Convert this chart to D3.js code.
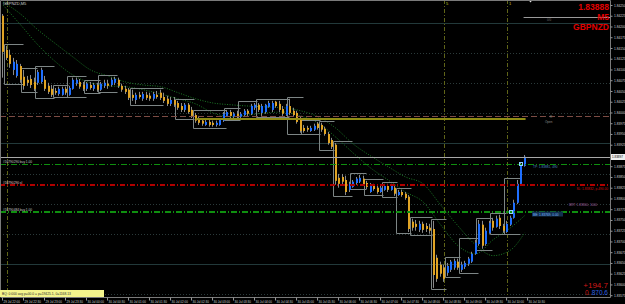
<!DOCTYPE html>
<html>
<head>
<meta charset="utf-8">
<script src="https://cdn.jsdelivr.net/npm/d3@7"></script>
<style>
  body { margin: 0; background: #000; }
  svg { display: block; font-family: "Liberation Sans", Arial, sans-serif; }
</style>
</head>
<body>
<svg width="625" height="304"></svg>
<script>
// GBPNZD M5 bars (index 0 = 29 Jul 22:00)
var opens = [
 1.84225,1.84146,1.84134,1.84099,1.84085,1.84108,1.84083,1.84076,1.84078,1.84071,
 1.84069,1.84071,1.84076,1.84062,1.84055,1.84050,1.84043,1.84041,1.84055,1.84041,
 1.84055,1.84067,1.84071,1.84064,1.84055,1.84064,1.84055,1.84064,1.84053,1.84062,
 1.84067,1.84064,1.84069,1.84076,1.84062,1.84055,1.84053,1.84041,1.84029,1.84041,
 1.84032,1.84041,1.84039,1.84032,1.84041,1.84046,1.84036,1.84032,1.84020,1.84029,
 1.84022,1.84015,1.84006,1.84018,1.84006,1.83994,1.83985,1.83981,1.83971,1.83978,
 1.83976,1.83971,1.83971,1.83981,1.83992,1.84001,1.83990,1.83997,1.83990,1.83994,
 1.84004,1.83997,1.84011,1.84018,1.83999,1.84001,1.84013,1.84006,1.84025,1.84020,
 1.84008,1.83994,1.84015,1.84004,1.83999,1.83987,1.83964,1.83964,1.83957,1.83960,
 1.83974,1.83971,1.83962,1.83950,1.83936,1.83925,1.83848,1.83850,1.83843,1.83820,
 1.83827,1.83836,1.83839,1.83846,1.83836,1.83815,1.83829,1.83825,1.83815,1.83820,
 1.83829,1.83820,1.83825,1.83808,1.83815,1.83811,1.83804,1.83746,1.83741,1.83727,
 1.83741,1.83736,1.83732,1.83729,1.83662,1.83646,1.83639,1.83627,1.83634,1.83639,
 1.83653,1.83634,1.83641,1.83648,1.83653,1.83671,1.83694,1.83739,1.83694,1.83720,
 1.83748,1.83734,1.83755,1.83736,1.83722,1.83739,1.83755,1.83790,1.83834,1.83876];
var highs = [
 1.84229,1.84155,1.84146,1.84127,1.84122,1.84113,1.84099,1.84085,1.84087,1.84081,
 1.84099,1.84104,1.84085,1.84069,1.84064,1.84057,1.84060,1.84060,1.84060,1.84062,
 1.84081,1.84081,1.84078,1.84071,1.84071,1.84071,1.84069,1.84069,1.84071,1.84076,
 1.84076,1.84081,1.84083,1.84081,1.84067,1.84062,1.84057,1.84053,1.84046,1.84048,
 1.84048,1.84048,1.84046,1.84048,1.84050,1.84053,1.84046,1.84039,1.84036,1.84036,
 1.84027,1.84022,1.84022,1.84022,1.84013,1.83999,1.83992,1.83985,1.83983,1.83983,
 1.83981,1.83981,1.83985,1.84001,1.84006,1.84006,1.84001,1.84004,1.84001,1.84008,
 1.84008,1.84020,1.84022,1.84022,1.84020,1.84020,1.84027,1.84027,1.84027,1.84027,
 1.84015,1.84020,1.84032,1.84011,1.84004,1.83992,1.83971,1.83969,1.83969,1.83974,
 1.83978,1.83976,1.83967,1.83955,1.83941,1.83929,1.83857,1.83857,1.83853,1.83839,
 1.83843,1.83850,1.83855,1.83853,1.83841,1.83836,1.83834,1.83829,1.83829,1.83834,
 1.83834,1.83834,1.83829,1.83820,1.83820,1.83815,1.83808,1.83753,1.83750,1.83748,
 1.83746,1.83743,1.83741,1.83748,1.83669,1.83653,1.83646,1.83650,1.83657,1.83660,
 1.83660,1.83653,1.83655,1.83664,1.83676,1.83704,1.83750,1.83748,1.83732,1.83748,
 1.83755,1.83760,1.83762,1.83741,1.83748,1.83760,1.83797,1.83843,1.83883,1.83901];
var lows = [
 1.84081,1.84122,1.84104,1.84087,1.84081,1.84069,1.84053,1.84062,1.84057,1.84050,
 1.84064,1.84067,1.84050,1.84043,1.84036,1.84041,1.84039,1.84039,1.84041,1.84039,
 1.84053,1.84062,1.84055,1.84050,1.84050,1.84053,1.84050,1.84048,1.84050,1.84057,
 1.84055,1.84060,1.84064,1.84057,1.84048,1.84043,1.84029,1.84027,1.84020,1.84032,
 1.84027,1.84029,1.84027,1.84027,1.84032,1.84029,1.84022,1.84015,1.84015,1.84013,
 1.84006,1.84001,1.84001,1.83997,1.83987,1.83976,1.83971,1.83969,1.83969,1.83967,
 1.83967,1.83967,1.83969,1.83978,1.83990,1.83987,1.83987,1.83985,1.83987,1.83992,
 1.83992,1.83994,1.84006,1.84001,1.83992,1.83997,1.84011,1.84001,1.84011,1.84001,
 1.83992,1.83992,1.83994,1.83990,1.83974,1.83953,1.83953,1.83955,1.83955,1.83957,
 1.83960,1.83955,1.83946,1.83925,1.83915,1.83832,1.83825,1.83832,1.83808,1.83815,
 1.83825,1.83832,1.83836,1.83829,1.83822,1.83813,1.83818,1.83811,1.83813,1.83818,
 1.83815,1.83818,1.83806,1.83806,1.83804,1.83797,1.83722,1.83725,1.83725,1.83722,
 1.83720,1.83722,1.83718,1.83592,1.83606,1.83618,1.83606,1.83620,1.83629,1.83634,
 1.83634,1.83629,1.83636,1.83643,1.83650,1.83669,1.83690,1.83683,1.83690,1.83718,
 1.83725,1.83732,1.83729,1.83720,1.83720,1.83736,1.83753,1.83787,1.83832,1.83874];
var closes = [
 1.84141,1.84127,1.84113,1.84118,1.84113,1.84076,1.84062,1.84069,1.84064,1.84055,
 1.84094,1.84099,1.84055,1.84048,1.84041,1.84046,1.84055,1.84055,1.84046,1.84057,
 1.84076,1.84076,1.84060,1.84055,1.84067,1.84057,1.84064,1.84053,1.84067,1.84069,
 1.84062,1.84076,1.84078,1.84062,1.84053,1.84048,1.84034,1.84034,1.84041,1.84036,
 1.84043,1.84034,1.84032,1.84043,1.84036,1.84034,1.84027,1.84020,1.84029,1.84018,
 1.84011,1.84006,1.84018,1.84001,1.83992,1.83981,1.83976,1.83974,1.83978,1.83971,
 1.83971,1.83976,1.83983,1.83997,1.84001,1.83992,1.83997,1.83990,1.83997,1.84004,
 1.83997,1.84015,1.84018,1.84006,1.84015,1.84018,1.84022,1.84022,1.84015,1.84006,
 1.83997,1.84015,1.83999,1.83994,1.83978,1.83957,1.83957,1.83960,1.83964,1.83969,
 1.83964,1.83960,1.83950,1.83929,1.83920,1.83841,1.83834,1.83839,1.83815,1.83834,
 1.83839,1.83846,1.83848,1.83834,1.83827,1.83832,1.83822,1.83815,1.83825,1.83829,
 1.83820,1.83829,1.83811,1.83815,1.83808,1.83801,1.83729,1.83732,1.83734,1.83741,
 1.83727,1.83729,1.83725,1.83622,1.83613,1.83625,1.83613,1.83643,1.83653,1.83655,
 1.83639,1.83646,1.83650,1.83660,1.83671,1.83697,1.83741,1.83690,1.83725,1.83743,
 1.83732,1.83753,1.83736,1.83725,1.83741,1.83755,1.83790,1.83834,1.83876,1.83897];

// range brackets: first and last bar of each group
var boxGroups = [[1,5],[6,9],[10,14],[15,18],[19,23],[24,27],[28,32],[37,45],[50,54],
  [55,63],[64,67],[68,72],[73,81],[82,85],[86,90],[91,94],[95,99],[100,103],[104,108],
  [109,112],[113,116],[117,122],[123,126],[127,130],[131,135],[136,139],[140,143],[144,147]];

// two moving averages, read at every 5th bar
var maIdx  = [0,5,10,15,20,25,30,35,40,45,50,55,60,65,70,75,80,85,90,95,100,105,110,115,120,125,130,135,140,145,149];
var fastMA = [1.84250,1.84204,1.84157,1.84118,1.84087,1.84069,1.84062,1.84060,1.84053,1.84043,
  1.84032,1.84020,1.83999,1.83990,1.83994,1.83999,1.84001,1.83992,1.83976,1.83943,
  1.83906,1.83871,1.83843,1.83815,1.83792,1.83739,1.83690,1.83671,1.83704,1.83732,1.83760];
var slowMA = [1.84257,1.84229,1.84192,1.84160,1.84129,1.84099,1.84085,1.84071,1.84064,1.84060,
  1.84046,1.84032,1.84022,1.84018,1.84015,1.84013,1.84011,1.84004,1.83990,1.83964,
  1.83927,1.83899,1.83874,1.83850,1.83834,1.83785,1.83736,1.83692,1.83667,1.83680,1.83720];

var gridSolid  = [1.84208, 1.83928, 1.83648];
var gridDotted = [1.84138, 1.84068, 1.83998, 1.83858, 1.83788, 1.83718, 1.83578];
var openLevel = 1.83992, pivotLevel = 1.83985, topLevel = 1.84222;
var buyLevel1 = 1.83881, slLevel = 1.83832, buyLevel2 = 1.83769;
var markerIdx = [145, 148], markerPrice = [1.83769, 1.83881];
var vlineIdx = [1, 126, 144], vlineText = ["", "5", "1"];

var priceTicks = [1.84250,1.84225,1.84200,1.84175,1.84150,1.84125,1.84100,1.84075,1.84050,1.84025,
  1.84000,1.83975,1.83950,1.83925,1.83900,1.83875,1.83850,1.83825,1.83800,1.83775,
  1.83750,1.83725,1.83700,1.83675,1.83650,1.83625,1.83600,1.83575];
var timeIdx = [0,6,12,18,24,30,36,42,48,54,60,66,72,78,84,90,96,102,108,114,120,126,132,138,144,150];
var timeLabels = ["29 Jul 22:00","29 Jul 22:30","29 Jul 23:00","29 Jul 23:30","30 Jul 00:00",
  "30 Jul 00:30","30 Jul 01:00","30 Jul 01:30","30 Jul 02:00","30 Jul 02:30","30 Jul 03:00",
  "30 Jul 03:30","30 Jul 04:00","30 Jul 04:30","30 Jul 05:00","30 Jul 05:30","30 Jul 06:00",
  "30 Jul 06:30","30 Jul 07:00","30 Jul 07:30","30 Jul 08:00","30 Jul 08:30","30 Jul 09:00",
  "30 Jul 09:30","30 Jul 10:00","30 Jul 10:30"];

var svg = d3.select("svg"),
    plotR = 610, plotB = 297,
    last = closes.length - 1;

var x = d3.scaleLinear().domain([0, 173.4]).range([3, plotR]),
    y = d3.scaleLinear().domain([1.835708, 1.842616]).range([plotB, 0]);

svg.append("rect").attr("width", 625).attr("height", 304).attr("fill", "#000");

svg.append("clipPath").attr("id", "plot")
    .append("rect").attr("width", plotR).attr("height", plotB);

var g = svg.append("g").attr("clip-path", "url(#plot)");

function hline(p, color, width, dash, x0, x1) {
    var yy = Math.round(y(p)) + (width % 2 ? 0.5 : 0);
    g.append("line")
        .attr("x1", x0 === undefined ? 0 : x0).attr("x2", x1 === undefined ? plotR : x1)
        .attr("y1", yy).attr("y2", yy)
        .attr("stroke", color).attr("stroke-width", width)
        .attr("stroke-dasharray", dash || null);
}

gridSolid.forEach(function (p) { hline(p, "#22393a", 1); });
gridDotted.forEach(function (p) { hline(p, "#2b3a3a", 1, "1,2"); });

// session lines
vlineIdx.forEach(function (d, i) {
    var xx = Math.round(x(d)) + 0.5;
    g.append("line").attr("x1", xx).attr("x2", xx).attr("y1", 0).attr("y2", plotB)
        .attr("stroke", "#5f6418").attr("stroke-dasharray", "4,2,1,2");
    g.append("text").attr("x", xx + 1.5).attr("y", 5).attr("font-size", "4px")
        .attr("fill", "#c8c820").text(vlineText[i]);
});

// moving averages
[slowMA, fastMA].forEach(function (arr) {
    g.append("path")
        .datum(maIdx.map(function (d, i) { return [d, arr[i]]; }))
        .attr("fill", "none").attr("stroke", "#1c7a26").attr("stroke-width", 1)
        .attr("stroke-dasharray", "1,1.5")
        .attr("d", d3.line().curve(d3.curveMonotoneX)
            .x(function (d) { return x(d[0]); })
            .y(function (d) { return y(d[1]); }));
});

// range brackets
g.selectAll(".box").data(boxGroups).enter().append("path")
    .attr("class", "box").attr("fill", "none")
    .attr("stroke", "#7d8585").attr("stroke-width", 1)
    .attr("d", function (d) {
        var hi = Math.round(y(d3.max(highs.slice(d[0], d[1] + 1)))) - 1.5,
            lo = Math.round(y(d3.min(lows.slice(d[0], d[1] + 1)))) + 1.5,
            x0 = Math.round(x(d[0])) - 2.5,
            x1 = Math.round(x(d[1])) + 2.5;
        return "M" + x1 + "," + hi + "H" + x0 + "V" + lo + "H" + x1;
    });

// candles
var bars = d3.range(closes.length);
g.selectAll(".wick").data(bars).enter().append("line")
    .attr("class", "wick")
    .attr("x1", function (i) { return Math.round(x(i)) - 0.5; })
    .attr("x2", function (i) { return Math.round(x(i)) - 0.5; })
    .attr("y1", function (i) { return y(highs[i]); })
    .attr("y2", function (i) { return y(lows[i]); })
    .attr("stroke", "#8a8a8a").attr("stroke-width", 1);

g.selectAll(".bar").data(bars).enter().append("rect")
    .attr("class", "bar")
    .attr("x", function (i) { return Math.round(x(i)) - 1; })
    .attr("width", 2)
    .attr("y", function (i) { return y(Math.max(opens[i], closes[i])); })
    .attr("height", function (i) { return Math.max(1, Math.abs(y(opens[i]) - y(closes[i]))); })
    .attr("fill", function (i) { return closes[i] >= opens[i] ? "#1f6fff" : "#e0a425"; });

// price levels
hline(topLevel, "#9a9a9a", 1, null, x(149) - 1);
hline(openLevel, "#7c4c44", 1, "6,3");
hline(pivotLevel, "#8f8c14", 2, null, x(55), x(last) + 1);
hline(buyLevel1, "#0f8f0f", 1, "6,2,1,2");
hline(slLevel, "#b00000", 2, "5,2,1,2");
hline(buyLevel2, "#0f8f0f", 2, "6,2,1,2");
hline(closes[last], "#a8a8a8", 1);

g.selectAll(".mark").data(markerIdx).enter().append("rect")
    .attr("x", function (d) { return Math.round(x(d)) - 1.5; })
    .attr("y", function (d, i) { return Math.round(y(markerPrice[i])) - 1.5; })
    .attr("width", 3).attr("height", 3)
    .attr("fill", "none").attr("stroke", "#8fd0ff").attr("stroke-width", 1);

function label(tx, ty, s, color, size, anchor, weight) {
    svg.append("text").attr("x", tx).attr("y", ty).attr("font-size", size + "px")
        .attr("fill", color).attr("text-anchor", anchor || "start")
        .attr("font-weight", weight || null).text(s);
}

label(3, 5, "GBPNZD,M5", "#d0d0d0", 4);
label(547, 21, "0/0", "#707070", 3);
label(550, 118, "R", "#808080", 3);
label(545, 123, "Open", "#909090", 3);
label(3, 163, "#16790290 buy 1.00", "#c8c8c8", 3.2);
label(3, 184, "#16790290 sl", "#e0c8c8", 3.2);
label(3, 211, "#16790484 buy 1.00", "#c8c8c8", 3.2);
label(533, 168, "TP: 1.83881, 490", "#4d86c8", 3.2);
label(608, 190, "SL: 1.83832, p-490.00", "#d01010", 3.2, "end");
label(597, 206, "BRT: 1.83800, 1000", "#a060a0", 3.2, "end");
svg.append("rect").attr("x", 532).attr("y", 211.5).attr("width", 31).attr("height", 5)
    .attr("fill", "#123050");
label(533, 215.5, "BE: 1.83769, 0.00", "#7fb8ff", 3.2);

// header
label(609, 10, "1.83888", "#e00000", 8.5, "end", "bold");
label(609, 20, "M5", "#e00000", 8.5, "end", "bold");
label(609, 30, "GBPNZD", "#e00000", 8.5, "end", "bold");
label(608, 287.5, "+194.7", "#d01818", 8, "end");
label(590.5, 294.5, "0.", "#d01818", 6.5, "end");
label(608, 294.5, "870.6", "#3060e0", 6.5, "end");

// chart shift marker
svg.append("path").attr("d", "M528.5,0H532.5L530.5,2.5Z").attr("fill", "#e8e8e8");

// frame
svg.append("path").attr("fill", "none").attr("stroke", "#7a7a7a")
    .attr("d", "M0.5," + plotB + "V0.5H" + (plotR + 0.5) + "V" + (plotB + 0.5) + "H0.5");

// price axis
var cy = Math.round(y(closes[last]));
var ya = svg.append("g").attr("transform", "translate(" + (plotR + 0.5) + ",0)")
    .call(d3.axisRight(y).tickValues(priceTicks.filter(function (p) { return Math.abs(y(p) - cy) > 5; }))
        .tickFormat(d3.format(".5f")).tickSize(2).tickPadding(1.5));
ya.select(".domain").remove();
ya.selectAll("line").attr("stroke", "#9a9a9a");
ya.selectAll("text").attr("fill", "#cfcfcf").attr("font-size", "3.2px")
    .attr("font-family", "Liberation Sans, Arial, sans-serif");

// current price box
svg.append("rect").attr("x", plotR + 1).attr("y", cy - 3).attr("width", 14).attr("height", 6).attr("fill", "#f0f0f0");
label(plotR + 2, cy + 1.2, d3.format(".5f")(closes[last]), "#000", 3);

// time axis
var xa = svg.append("g").attr("transform", "translate(0," + (plotB + 0.5) + ")")
    .call(d3.axisBottom(x).tickValues(timeIdx)
        .tickFormat(function (d, i) { return timeLabels[i]; }).tickSize(3).tickPadding(0.5));
xa.select(".domain").remove();
xa.selectAll("line").attr("stroke", "#9a9a9a").attr("transform", "translate(-1,0)");
xa.selectAll("text").attr("fill", "#d0d0d0").attr("font-size", "3px").attr("text-anchor", "start")
    .attr("font-family", "Liberation Sans, Arial, sans-serif");

// info strip
svg.append("rect").attr("x", 0).attr("y", 290).attr("width", 104).attr("height", 7).attr("fill", "#f4f48c");
label(2, 294.8, "BQ: 0:000 avg p=00.0 = p=19425.1, 0=1168.13", "#303030", 3.3);
</script>
</body>
</html>
